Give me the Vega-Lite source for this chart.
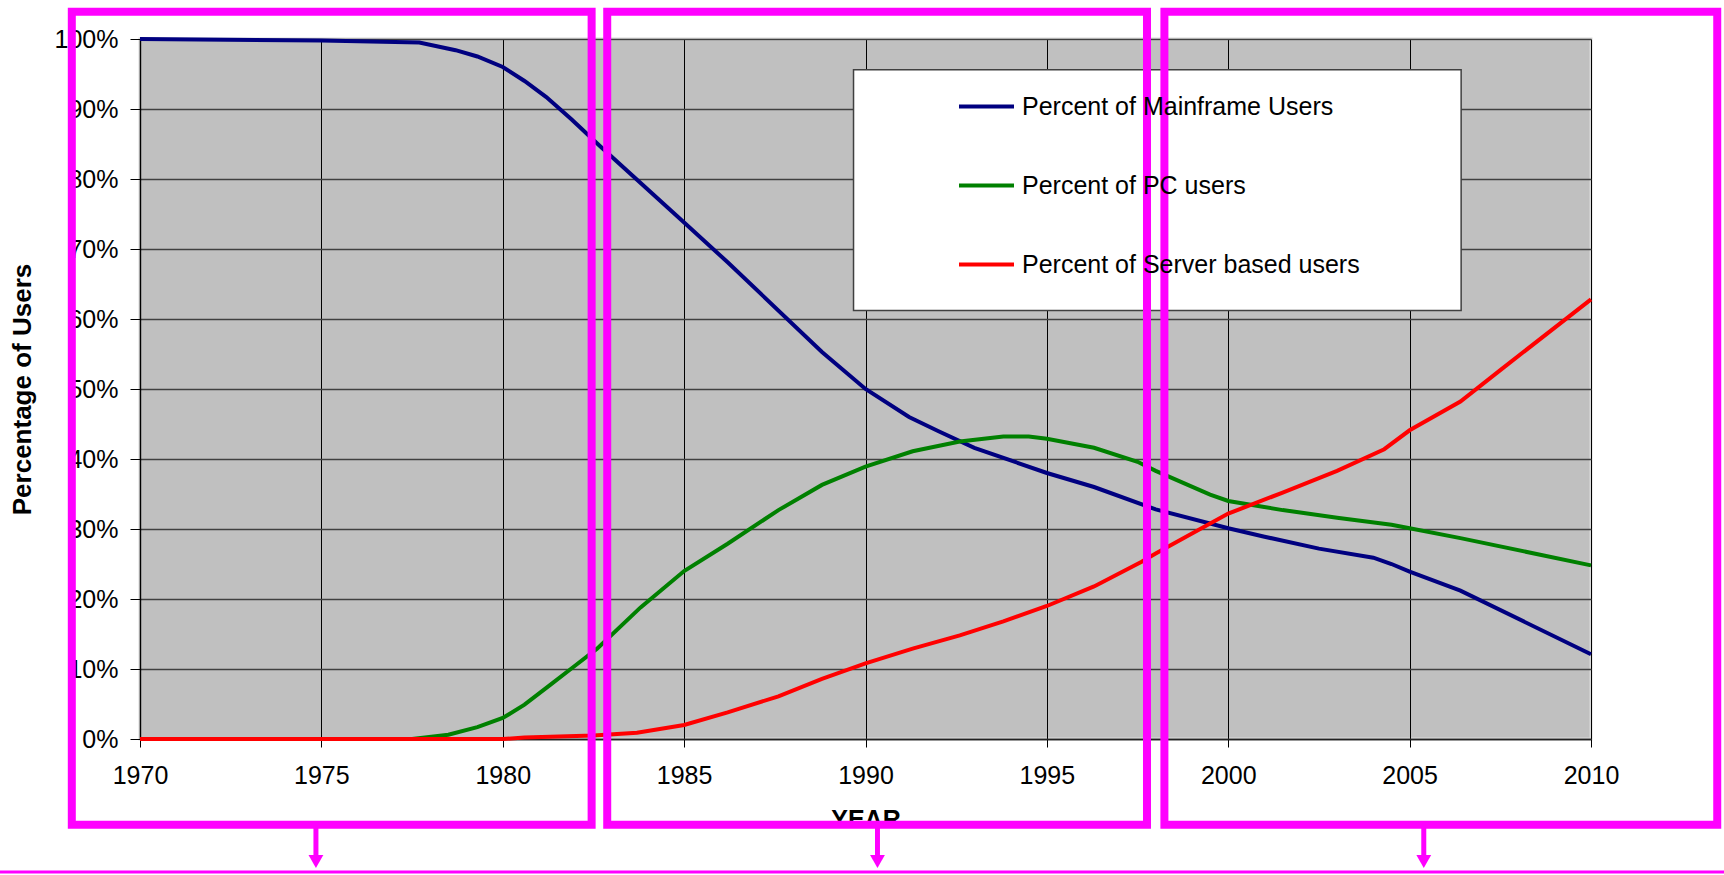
{
  "$schema": "https://vega.github.io/schema/vega-lite/v6.json",
  "width": 1451,
  "height": 700,
  "autosize": {"type": "none"},
  "padding": {"left": 140, "top": 39, "right": 133, "bottom": 136},
  "background": "white",
  "config": {
    "view": {"fill": "#C0C0C0", "stroke": "#D9D9D9", "strokeWidth": 3},
    "font": "Liberation Sans"
  },
  "datasets": {
    "lines": [
      {"year": 1970, "share": 1.0, "series": "Percent of Mainframe Users"},
      {"year": 1975, "share": 0.998, "series": "Percent of Mainframe Users"},
      {"year": 1977.7, "share": 0.995, "series": "Percent of Mainframe Users"},
      {"year": 1978.7, "share": 0.984, "series": "Percent of Mainframe Users"},
      {"year": 1979.3, "share": 0.975, "series": "Percent of Mainframe Users"},
      {"year": 1980, "share": 0.96, "series": "Percent of Mainframe Users"},
      {"year": 1980.6, "share": 0.94, "series": "Percent of Mainframe Users"},
      {"year": 1981.2, "share": 0.917, "series": "Percent of Mainframe Users"},
      {"year": 1981.9, "share": 0.885, "series": "Percent of Mainframe Users"},
      {"year": 1982.7, "share": 0.846, "series": "Percent of Mainframe Users"},
      {"year": 1985, "share": 0.738, "series": "Percent of Mainframe Users"},
      {"year": 1986.2, "share": 0.681, "series": "Percent of Mainframe Users"},
      {"year": 1988.8, "share": 0.553, "series": "Percent of Mainframe Users"},
      {"year": 1990, "share": 0.5, "series": "Percent of Mainframe Users"},
      {"year": 1991.2, "share": 0.46, "series": "Percent of Mainframe Users"},
      {"year": 1992, "share": 0.44, "series": "Percent of Mainframe Users"},
      {"year": 1993, "share": 0.416, "series": "Percent of Mainframe Users"},
      {"year": 1995, "share": 0.38, "series": "Percent of Mainframe Users"},
      {"year": 1996.3, "share": 0.36, "series": "Percent of Mainframe Users"},
      {"year": 1998, "share": 0.328, "series": "Percent of Mainframe Users"},
      {"year": 2000, "share": 0.301, "series": "Percent of Mainframe Users"},
      {"year": 2001, "share": 0.289, "series": "Percent of Mainframe Users"},
      {"year": 2002.5, "share": 0.272, "series": "Percent of Mainframe Users"},
      {"year": 2004, "share": 0.259, "series": "Percent of Mainframe Users"},
      {"year": 2004.5, "share": 0.25, "series": "Percent of Mainframe Users"},
      {"year": 2005, "share": 0.239, "series": "Percent of Mainframe Users"},
      {"year": 2006.4, "share": 0.212, "series": "Percent of Mainframe Users"},
      {"year": 2010, "share": 0.121, "series": "Percent of Mainframe Users"},
      {"year": 1970, "share": 0.0, "series": "Percent of PC users"},
      {"year": 1977.5, "share": 0.0, "series": "Percent of PC users"},
      {"year": 1978.5, "share": 0.006, "series": "Percent of PC users"},
      {"year": 1979.3, "share": 0.017, "series": "Percent of PC users"},
      {"year": 1980, "share": 0.03, "series": "Percent of PC users"},
      {"year": 1980.6, "share": 0.049, "series": "Percent of PC users"},
      {"year": 1981.3, "share": 0.077, "series": "Percent of PC users"},
      {"year": 1982, "share": 0.105, "series": "Percent of PC users"},
      {"year": 1982.6, "share": 0.129, "series": "Percent of PC users"},
      {"year": 1983.8, "share": 0.188, "series": "Percent of PC users"},
      {"year": 1985, "share": 0.24, "series": "Percent of PC users"},
      {"year": 1986.2, "share": 0.279, "series": "Percent of PC users"},
      {"year": 1987.6, "share": 0.327, "series": "Percent of PC users"},
      {"year": 1988.8, "share": 0.363, "series": "Percent of PC users"},
      {"year": 1990, "share": 0.389, "series": "Percent of PC users"},
      {"year": 1991.3, "share": 0.411, "series": "Percent of PC users"},
      {"year": 1992.6, "share": 0.425, "series": "Percent of PC users"},
      {"year": 1993.8, "share": 0.432, "series": "Percent of PC users"},
      {"year": 1994.5, "share": 0.432, "series": "Percent of PC users"},
      {"year": 1995, "share": 0.429, "series": "Percent of PC users"},
      {"year": 1996.3, "share": 0.416, "series": "Percent of PC users"},
      {"year": 1997.5, "share": 0.396, "series": "Percent of PC users"},
      {"year": 1998, "share": 0.383, "series": "Percent of PC users"},
      {"year": 1999.5, "share": 0.349, "series": "Percent of PC users"},
      {"year": 2000, "share": 0.34, "series": "Percent of PC users"},
      {"year": 2001.5, "share": 0.327, "series": "Percent of PC users"},
      {"year": 2003, "share": 0.316, "series": "Percent of PC users"},
      {"year": 2004.5, "share": 0.306, "series": "Percent of PC users"},
      {"year": 2005, "share": 0.301, "series": "Percent of PC users"},
      {"year": 2006.4, "share": 0.287, "series": "Percent of PC users"},
      {"year": 2010, "share": 0.248, "series": "Percent of PC users"},
      {"year": 1970, "share": 0.0, "series": "Percent of Server based users"},
      {"year": 1980, "share": 0.0, "series": "Percent of Server based users"},
      {"year": 1980.6, "share": 0.002, "series": "Percent of Server based users"},
      {"year": 1982.5, "share": 0.005, "series": "Percent of Server based users"},
      {"year": 1983.7, "share": 0.009, "series": "Percent of Server based users"},
      {"year": 1985, "share": 0.02, "series": "Percent of Server based users"},
      {"year": 1986.2, "share": 0.038, "series": "Percent of Server based users"},
      {"year": 1987.6, "share": 0.061, "series": "Percent of Server based users"},
      {"year": 1988.8, "share": 0.086, "series": "Percent of Server based users"},
      {"year": 1990, "share": 0.108, "series": "Percent of Server based users"},
      {"year": 1991.3, "share": 0.129, "series": "Percent of Server based users"},
      {"year": 1992.6, "share": 0.148, "series": "Percent of Server based users"},
      {"year": 1993.8, "share": 0.168, "series": "Percent of Server based users"},
      {"year": 1995, "share": 0.19, "series": "Percent of Server based users"},
      {"year": 1996.3, "share": 0.218, "series": "Percent of Server based users"},
      {"year": 1997.6, "share": 0.253, "series": "Percent of Server based users"},
      {"year": 1998, "share": 0.265, "series": "Percent of Server based users"},
      {"year": 2000, "share": 0.322, "series": "Percent of Server based users"},
      {"year": 2001.5, "share": 0.352, "series": "Percent of Server based users"},
      {"year": 2003, "share": 0.383, "series": "Percent of Server based users"},
      {"year": 2004.3, "share": 0.414, "series": "Percent of Server based users"},
      {"year": 2005, "share": 0.441, "series": "Percent of Server based users"},
      {"year": 2006.4, "share": 0.482, "series": "Percent of Server based users"},
      {"year": 2007.5, "share": 0.527, "series": "Percent of Server based users"},
      {"year": 2010, "share": 0.628, "series": "Percent of Server based users"}
    ],
    "legendbox": [
      {"from": 1989.67, "to": 2006.42, "low": 0.612, "high": 0.956}
    ],
    "boxes": [
      {"from": 1968.12, "to": 1982.45, "low": -0.1225, "high": 1.039},
      {"from": 1982.88, "to": 1997.76, "low": -0.1225, "high": 1.039},
      {"from": 1998.24, "to": 2013.48, "low": -0.1225, "high": 1.039}
    ],
    "arrows": [
      {"at": 1974.85, "low": -0.175, "high": -0.1225},
      {"at": 1990.33, "low": -0.175, "high": -0.1225},
      {"at": 2005.39, "low": -0.175, "high": -0.1225}
    ],
    "baseline": [
      {"from": 1965, "to": 2015, "level": -0.19}
    ]
  },
  "layer": [
    {
      "data": {"name": "lines"},
      "mark": {"type": "line", "strokeWidth": 4},
      "encoding": {
        "x": {
          "field": "year",
          "type": "quantitative",
          "title": "YEAR",
          "scale": {"domain": [1970, 2010], "nice": false, "zero": false},
          "axis": {
            "title": "YEAR",
            "values": [1970, 1975, 1980, 1985, 1990, 1995, 2000, 2005, 2010],
            "format": "d",
            "grid": true,
            "gridColor": "black",
            "gridWidth": 1,
            "domainColor": "#222222",
            "domainWidth": 1.5,
            "tickColor": "black",
            "tickSize": 8,
            "labelFontSize": 25,
            "labelColor": "black",
            "labelPadding": 16,
            "labelFlush": false,
            "titleFontSize": 25,
            "titleFontWeight": "bold",
            "titleColor": "black",
            "titleY": 80,
            "titleBaseline": "middle"
          }
        },
        "y": {
          "field": "share",
          "type": "quantitative",
          "title": "Percentage of Users",
          "scale": {"domain": [0, 1], "nice": false},
          "axis": {
            "title": "Percentage of Users",
            "values": [0, 0.1, 0.2, 0.3, 0.4, 0.5, 0.6, 0.7, 0.8, 0.9, 1],
            "format": ".0%",
            "grid": true,
            "gridColor": "#404040",
            "gridWidth": 1.5,
            "domainColor": "black",
            "domainWidth": 1.5,
            "tickColor": "black",
            "tickSize": 10,
            "labelFontSize": 25,
            "labelColor": "black",
            "labelPadding": 12,
            "labelFlush": false,
            "titleFontSize": 26,
            "titleFontWeight": "bold",
            "titleColor": "black",
            "titleAngle": -90,
            "titleX": -118,
            "titleY": 350,
            "titleAlign": "center",
            "titleBaseline": "middle"
          }
        },
        "color": {
          "field": "series",
          "type": "nominal",
          "scale": {
            "domain": ["Percent of Mainframe Users", "Percent of PC users", "Percent of Server based users"],
            "range": ["#000080", "#008000", "#FF0000"]
          },
          "legend": {
            "orient": "none",
            "legendX": 817,
            "legendY": 38,
            "title": null,
            "symbolType": "stroke",
            "symbolSize": 3025,
            "symbolStrokeWidth": 4,
            "labelFontSize": 25,
            "labelColor": "black",
            "labelOffset": 6,
            "labelLimit": 700,
            "rowPadding": 36,
            "padding": 0
          }
        }
      }
    },
    {
      "data": {"name": "legendbox"},
      "mark": {"type": "rect", "fill": "white", "stroke": "#404040", "strokeWidth": 1.5},
      "encoding": {
        "x": {"field": "from", "type": "quantitative", "title": "YEAR"},
        "x2": {"field": "to"},
        "y": {"field": "low", "type": "quantitative", "title": "Percentage of Users"},
        "y2": {"field": "high"}
      }
    },
    {
      "data": {"name": "boxes"},
      "mark": {"type": "rect", "filled": false, "stroke": "#FF00FF", "strokeWidth": 8},
      "encoding": {
        "x": {"field": "from", "type": "quantitative", "title": "YEAR"},
        "x2": {"field": "to"},
        "y": {"field": "low", "type": "quantitative", "title": "Percentage of Users"},
        "y2": {"field": "high"}
      }
    },
    {
      "data": {"name": "arrows"},
      "mark": {"type": "rule", "stroke": "#FF00FF", "strokeWidth": 5},
      "encoding": {
        "x": {"field": "at", "type": "quantitative", "title": "YEAR"},
        "y": {"field": "low", "type": "quantitative", "title": "Percentage of Users"},
        "y2": {"field": "high"}
      }
    },
    {
      "data": {"name": "arrows"},
      "mark": {"type": "point", "shape": "triangle-down", "filled": true, "color": "#FF00FF", "size": 220, "opacity": 1},
      "encoding": {
        "x": {"field": "at", "type": "quantitative", "title": "YEAR"},
        "y": {"field": "low", "type": "quantitative", "title": "Percentage of Users"}
      }
    },
    {
      "data": {"name": "baseline"},
      "mark": {"type": "rule", "stroke": "#FF00FF", "strokeWidth": 3},
      "encoding": {
        "x": {"field": "from", "type": "quantitative", "title": "YEAR"},
        "x2": {"field": "to"},
        "y": {"field": "level", "type": "quantitative", "title": "Percentage of Users"}
      }
    }
  ]
}
